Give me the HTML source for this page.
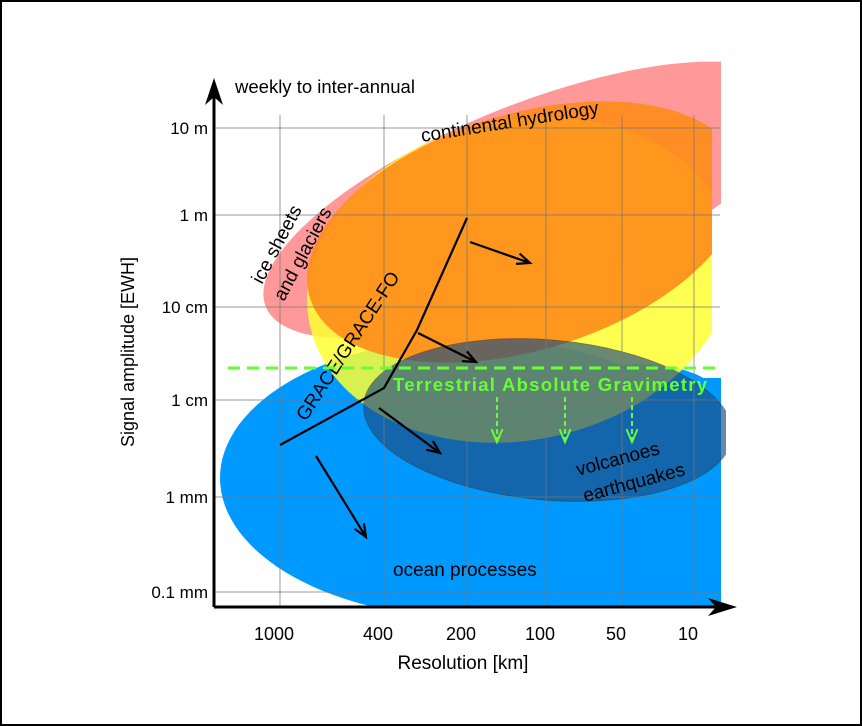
<!DOCTYPE html>
<html><head><meta charset="utf-8"><style>
body{margin:0;background:#fff}
svg{display:block;font-family:"Liberation Sans",sans-serif}
</style></head><body>
<svg width="862" height="726" viewBox="0 0 862 726">
<rect x="1" y="1" width="860" height="724" fill="#fff" stroke="#000" stroke-width="2"/>
<defs>
<clipPath id="c"><rect x="214" y="60" width="507" height="547"/></clipPath>
<clipPath id="c2"><rect x="214" y="60" width="498" height="547"/></clipPath>
<clipPath id="c3"><rect x="214" y="60" width="512" height="547"/></clipPath>
</defs>
<g id="grid"></g>
<g clip-path="url(#c)">
<g fill="#0099ff">
<ellipse cx="472" cy="478" rx="252" ry="140"/>
<rect x="472" y="378" width="260" height="240"/>
<ellipse cx="640" cy="400" rx="80" ry="36"/>
</g>
<ellipse cx="530" cy="200" rx="285" ry="95" transform="rotate(-22 530 200)" fill="#ff8f8f" opacity="0.92"/>
<g clip-path="url(#c2)">
<ellipse cx="520" cy="280" rx="215" ry="160" transform="rotate(-12 520 280)" fill="#ffff33" opacity="0.85"/>
<ellipse cx="525" cy="232" rx="225" ry="118" transform="rotate(-17 525 232)" fill="#ff8c1a" opacity="0.9"/>
</g>
</g>
<g clip-path="url(#c3)">
<ellipse cx="548" cy="420" rx="185" ry="80" transform="rotate(5 548 420)" fill="#1d4d80" opacity="0.66" stroke="#333" stroke-width="0.8"/>
</g>
<g id="gridlines"></g>
<line x1="214" y1="607" x2="214" y2="90" stroke="#000" stroke-width="3"/>
<polygon points="214,78 205,105 214,97 223,105" fill="#000"/>
<line x1="214" y1="607" x2="725" y2="607" stroke="#000" stroke-width="3"/>
<polygon points="737,607 708,598 716,607 708,616" fill="#000"/>
<g id="ticks"></g>
<text x="235" y="93" font-size="18.5">weekly to inter-annual</text>
<text x="0" y="0" font-size="19" transform="translate(422,142) rotate(-9)">continental hydrology</text>
<text font-size="19" transform="translate(262,285) rotate(-62)">ice sheets</text>
<text font-size="19" transform="translate(284,302) rotate(-62)">and glaciers</text>
<text font-size="19" transform="translate(306,422) rotate(-57)">GRACE/GRACE-FO</text>
<text font-size="19" transform="translate(578,476) rotate(-15)">volcanoes</text>
<text font-size="19" transform="translate(585,502) rotate(-15)">earthquakes</text>
<text x="393" y="576" font-size="19">ocean processes</text>
<line x1="228" y1="368" x2="722" y2="368" stroke="#66ff33" stroke-width="3" stroke-dasharray="12,7"/>
<text x="393" y="391" font-size="18.5" font-weight="bold" fill="#66ff33" textLength="314">Terrestrial Absolute Gravimetry</text>
<g id="garrows"></g>
<polyline points="280,445 384,388 417,330 467,218" fill="none" stroke="#000" stroke-width="2.2"/>
<g id="barrows"></g>
<text font-size="18" transform="translate(134,352) rotate(-90)" text-anchor="middle">Signal amplitude [EWH]</text>
<text x="463" y="669" font-size="19" text-anchor="middle">Resolution [km]</text>
</svg>
<script>
const yLabels=["10 m","1 m","10 cm","1 cm","1 mm","0.1 mm"];
const yPos=[128,215,307,400,497,592];
const xLabels=["1000","400","200","100","50","10"];
const xPos=[280,384,467,546,622,694];
const NS="http://www.w3.org/2000/svg";
function mk(t,a,p){const e=document.createElementNS(NS,t);for(const k in a)e.setAttribute(k,a[k]);p.appendChild(e);return e;}
const gl=document.getElementById('gridlines'),tk=document.getElementById('ticks');
yLabels.forEach((l,i)=>{
 const ln=mk('line',{x1:214,x2:720,y1:yPos[i],y2:yPos[i],stroke:'#777','stroke-opacity':0.5,'stroke-width':1.5},gl);
 
 
 const t=mk('text',{x:208,y:yPos[i]+6,'font-size':17,'text-anchor':'end'},tk);t.textContent=l;
 
 
});
xLabels.forEach((l,i)=>{
 const ln=mk('line',{x1:xPos[i],x2:xPos[i],y1:115,y2:607,stroke:'#777','stroke-opacity':0.5,'stroke-width':1.5},gl);
 
 
 const t=mk('text',{x:xPos[i]-6,y:640,'font-size':18,'text-anchor':'middle'},tk);t.textContent=l;
 
 
});
function arrow(p,x1,y1,x2,y2,col,w,dash,name){
 const l=mk('line',{x1,y1,x2,y2,stroke:col,'stroke-width':w},p);if(dash)l.setAttribute('stroke-dasharray',dash);
 
 
 const a=Math.atan2(y2-y1,x2-x1),L=14,s=0.4;
 const h=mk('polyline',{points:`${x2-L*Math.cos(a-s)},${y2-L*Math.sin(a-s)} ${x2},${y2} ${x2-L*Math.cos(a+s)},${y2-L*Math.sin(a+s)}`,fill:'none',stroke:col,'stroke-width':w},p);
 
 
}
const ga=document.getElementById('garrows');
[497,565,632].forEach(x=>arrow(ga,x,397,x,442,'#66ff33',2,'5,3','gravimetry-arrow'));
const ba=document.getElementById('barrows');
arrow(ba,470,242,530,263,'#000',2.2,null,'arrow');
arrow(ba,418,333,476,362,'#000',2.2,null,'arrow');
arrow(ba,379,408,440,453,'#000',2.2,null,'arrow');
arrow(ba,316,456,366,537,'#000',2.2,null,'arrow');
</script>
</body></html>
